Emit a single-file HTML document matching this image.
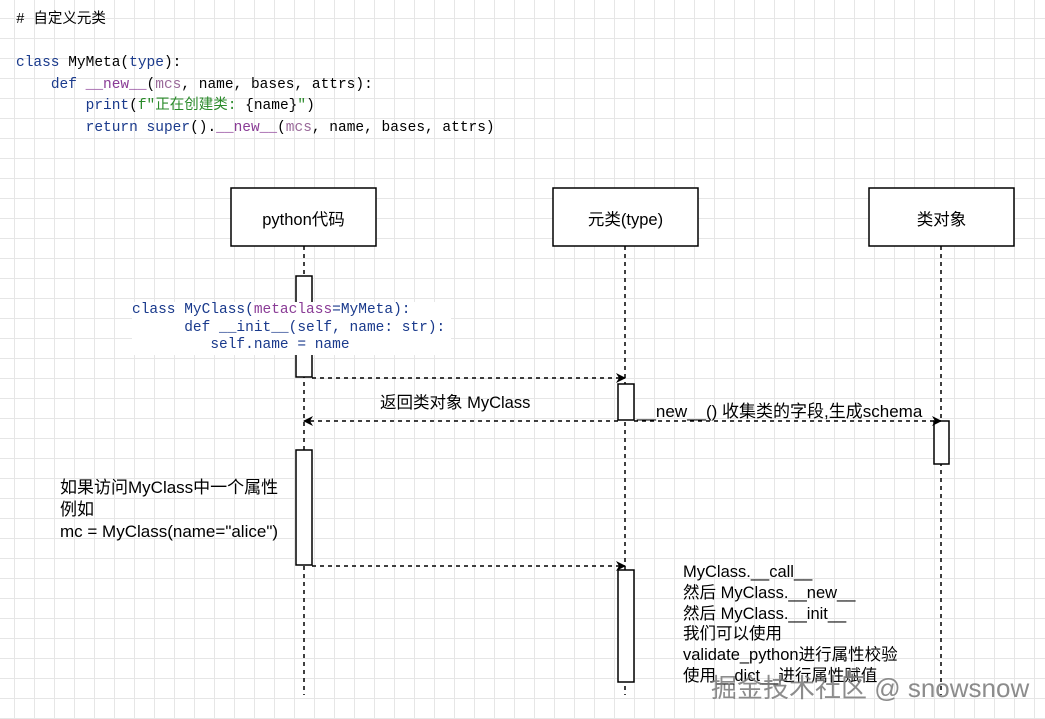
<!DOCTYPE html>
<html><head><meta charset="utf-8"><style>
body{margin:0;width:1045px;height:719px;overflow:hidden;background:#fff;
background-image:linear-gradient(#e6e6e6 1px,transparent 1px),linear-gradient(90deg,#e6e6e6 1px,transparent 1px);background-size:20px 20px;background-position:-6px -2px;position:relative;font-family:"Liberation Sans","Noto Sans CJK SC",sans-serif}
.code{position:absolute;font-family:"Liberation Mono","Noto Sans CJK SC",monospace;font-size:14.5px;white-space:pre;line-height:21.5px;color:#000}
.k{color:#1a3a8c}.p{color:#8a3c96}.s{color:#2a8a2a}.m{color:#9a6a9a}
.t{position:absolute;font-size:16.5px;color:#000;white-space:pre}
</style></head><body>
<div class="code" style="left:16px;top:10px"># 自定义元类

<span class="k">class</span> MyMeta(<span class="k">type</span>):
    <span class="k">def</span> <span class="p">__new__</span>(<span class="m">mcs</span>, name, bases, attrs):
        <span class="k">print</span>(<span class="s">f"正在创建类: </span>{name}<span class="s">"</span>)
        <span class="k">return</span> <span class="k">super</span>().<span class="p">__new__</span>(<span class="m">mcs</span>, name, bases, attrs)</div>
<svg width="1045" height="719" style="position:absolute;left:0;top:0">
<defs><marker id="a" markerWidth="10" markerHeight="10" refX="9" refY="5" orient="auto" markerUnits="userSpaceOnUse"><path d="M0,0 L10,5 L0,10 L3,5 z" fill="#000"/></marker></defs>
<g stroke="#000" stroke-width="1.5" stroke-dasharray="4,4" fill="none">
<line x1="304" y1="246" x2="304" y2="695"/>
<line x1="625" y1="246" x2="625" y2="695"/>
<line x1="941" y1="246" x2="941" y2="695"/>
</g>
<g stroke="#000" stroke-width="1.5" fill="#fff">
<rect x="231" y="188" width="145" height="58"/>
<rect x="553" y="188" width="145" height="58"/>
<rect x="869" y="188" width="145" height="58"/>
<rect x="296" y="276" width="16" height="101"/>
<rect x="618" y="384" width="16" height="36"/>
<rect x="934" y="421" width="15" height="43"/>
<rect x="296" y="450" width="16" height="115"/>
<rect x="618" y="570" width="16" height="112"/>
</g>
<g stroke="#000" stroke-width="1.5" stroke-dasharray="4,4" fill="none">
<line x1="312" y1="378" x2="625" y2="378" marker-end="url(#a)"/>
<line x1="618" y1="421" x2="304" y2="421" marker-end="url(#a)"/>
<line x1="634" y1="421" x2="941" y2="421" marker-end="url(#a)"/>
<line x1="312" y1="566" x2="625" y2="566" marker-end="url(#a)"/>
</g>
</svg>
<div class="t" style="left:231px;top:206px;width:145px;text-align:center">python代码</div>
<div class="t" style="left:553px;top:206px;width:145px;text-align:center">元类(type)</div>
<div class="t" style="left:869px;top:206px;width:145px;text-align:center">类对象</div>
<div class="code" style="left:132px;top:302px;background:#fff;padding:0 6px 0 0;line-height:17.5px;color:#1a3a8c">class MyClass(<span class="p">metaclass</span>=MyMeta):
      def __init__(self, name: str):
         self.name = name</div>
<div class="t" style="left:380px;top:389px">返回类对象 MyClass</div>
<div class="t" style="left:637px;top:397px;font-size:17px">__new__() 收集类的字段,生成schema</div>
<div class="t" style="left:60px;top:477px;line-height:22px;font-size:17px">如果访问MyClass中一个属性
例如
mc = MyClass(name="alice")</div>
<div class="t" style="left:683px;top:562px;line-height:20.8px;font-size:16.5px">MyClass.__call__
然后 MyClass.__new__
然后 MyClass.__init__
我们可以使用
validate_python进行属性校验
使用__dict__进行属性赋值</div>
<div class="t" style="left:711px;top:668px;font-size:26px;color:rgba(120,120,120,0.85)">掘金技术社区 @ snowsnow</div>
</body></html>
